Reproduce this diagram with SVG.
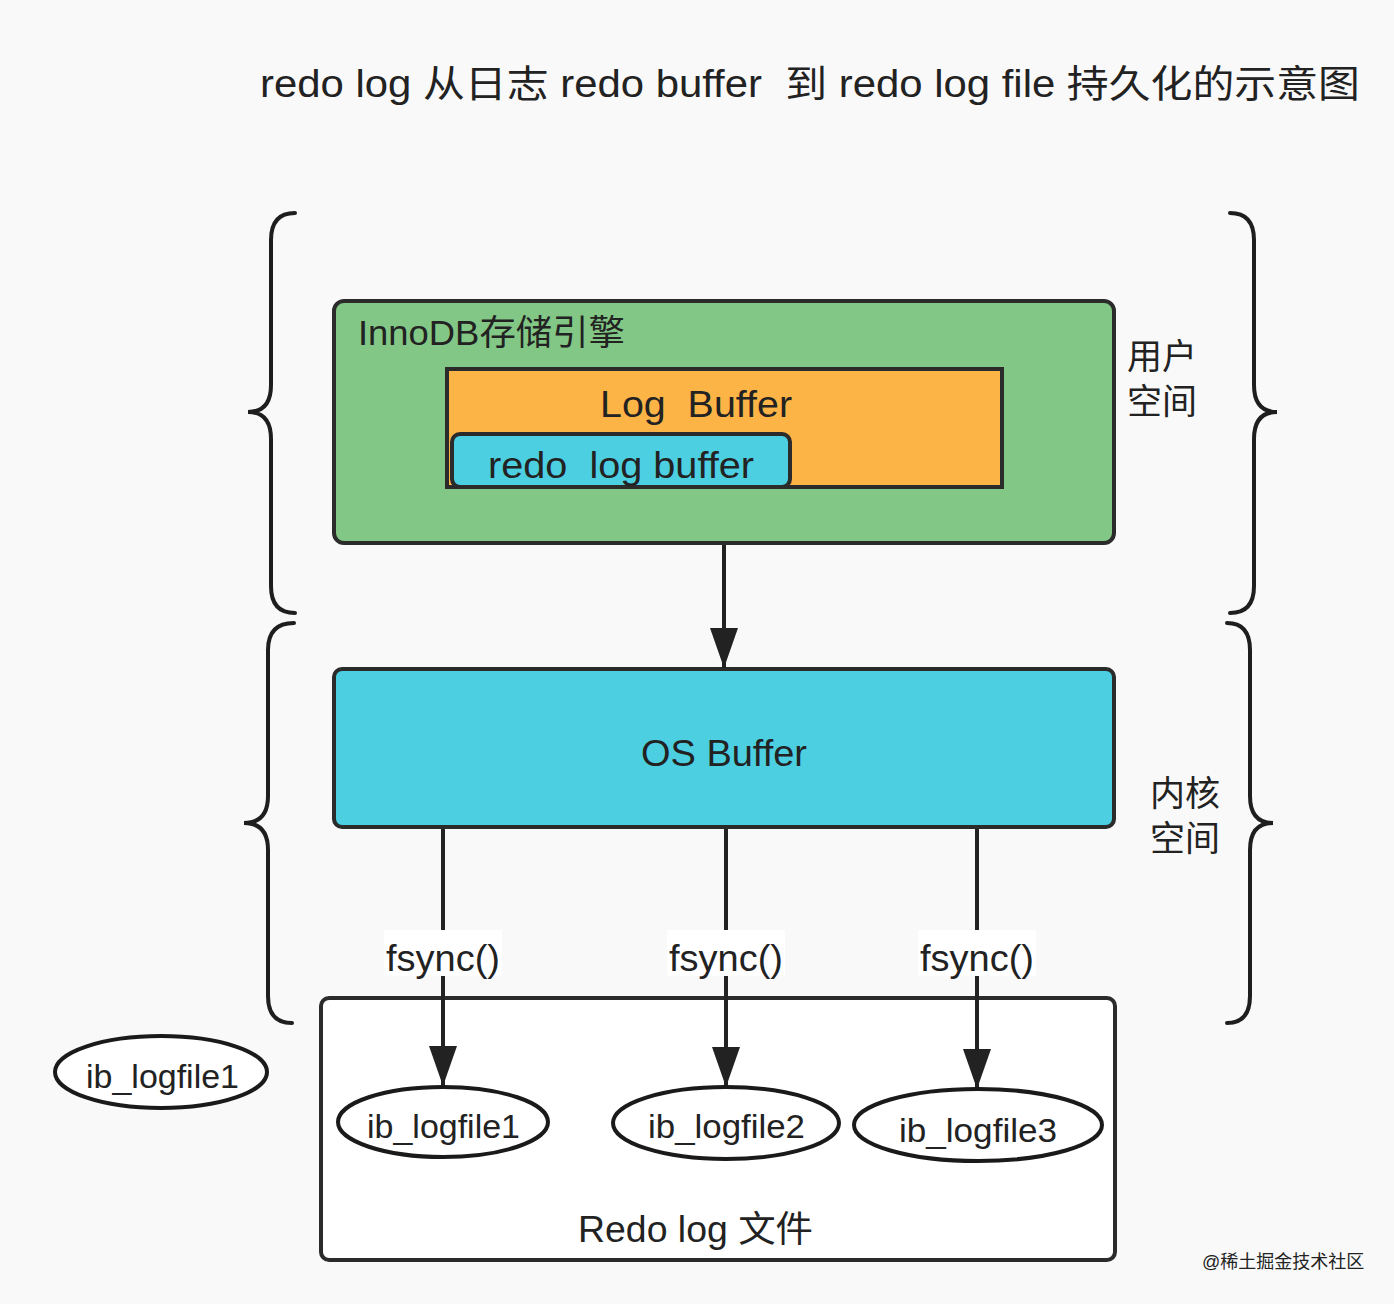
<svg xmlns="http://www.w3.org/2000/svg" width="1394" height="1304" viewBox="0 0 1394 1304">
<style>
.t{font-family:"Liberation Sans","Noto Sans CJK SC",sans-serif;fill:#222;white-space:pre;}
.box{stroke:#2b2b2b;stroke-width:4;}
.br{fill:none;stroke:#1e1e1e;stroke-width:4;stroke-linecap:round;}
.ln{stroke:#222;stroke-width:4;fill:none;}
.el{fill:#fff;stroke:#1a1a1a;stroke-width:4;}
</style>
<defs>
<marker id="ah" markerWidth="40" markerHeight="28" refX="40" refY="14" orient="auto" markerUnits="userSpaceOnUse" viewBox="0 0 40 28">
<path d="M0,0 L40,14 L0,28 Z" fill="#222"/>
</marker>
</defs>
<rect width="1394" height="1304" fill="#f9f9f9"/>
<text class="t" x="260" y="97" font-size="38" fill="#111" textLength="1100" lengthAdjust="spacingAndGlyphs" xml:space="preserve">redo log 从日志 redo buffer  到 redo log file 持久化的示意图</text>

<g id="braces">
<path class="br" d="M295,213 Q271,213 271,240 L271,385 Q271,412 248,412 Q271,412 271,439 L271,586 Q271,613 295,613"/>
<path class="br" d="M294,623 Q268,623 268,650 L268,796 Q268,823 244,823 Q268,823 268,850 L268,996 Q268,1023 292,1023"/>
<path class="br" d="M1230,213 Q1254,213 1254,240 L1254,385 Q1254,412 1277,412 Q1254,412 1254,439 L1254,586 Q1254,613 1230,613"/>
<path class="br" d="M1227,623 Q1250,623 1250,650 L1250,796 Q1250,823 1273,823 Q1250,823 1250,850 L1250,996 Q1250,1023 1227,1023"/>
</g>

<g id="user-space-label">
<text class="t" x="1127" y="369" font-size="35" fill="#333">用户</text>
<text class="t" x="1127" y="414" font-size="35" fill="#333">空间</text>
</g>
<g id="kernel-space-label">
<text class="t" x="1150" y="806" font-size="35" fill="#333">内核</text>
<text class="t" x="1150" y="851" font-size="35" fill="#333">空间</text>
</g>

<g id="innodb">
<rect class="box" x="334" y="301" width="780" height="242" rx="10" fill="#82c785"/>
<text class="t" x="358" y="345" font-size="35" fill="#333" textLength="267" lengthAdjust="spacingAndGlyphs">InnoDB存储引擎</text>
</g>
<g id="log-buffer">
<rect class="box" x="447" y="369" width="555" height="118" fill="#fdb446"/>
<text class="t" x="600" y="417" font-size="36" fill="#333" textLength="192" lengthAdjust="spacingAndGlyphs" xml:space="preserve">Log  Buffer</text>
</g>
<g id="redo-log-buffer">
<rect class="box" x="452" y="434" width="338" height="53" rx="8" fill="#4ccfe1"/>
<text class="t" x="488" y="478" font-size="36" fill="#333" textLength="266" lengthAdjust="spacingAndGlyphs" xml:space="preserve">redo  log buffer</text>
</g>

<g id="os-buffer">
<rect class="box" x="334" y="669" width="780" height="158" rx="8" fill="#4ccfe1"/>
<text class="t" x="641" y="766" font-size="36" fill="#333" textLength="166" lengthAdjust="spacingAndGlyphs">OS Buffer</text>
</g>

<g id="redo-log-files">
<rect class="box" x="321" y="998" width="794" height="262" rx="8" fill="#fff"/>
<text class="t" x="578" y="1242" font-size="36" fill="#333" textLength="235" lengthAdjust="spacingAndGlyphs">Redo log 文件</text>
</g>

<g id="connectors">
<line class="ln" x1="724" y1="545" x2="724" y2="668" marker-end="url(#ah)"/>
<line class="ln" x1="443" y1="829" x2="443" y2="1086" marker-end="url(#ah)"/>
<line class="ln" x1="726" y1="829" x2="726" y2="1087" marker-end="url(#ah)"/>
<line class="ln" x1="977" y1="829" x2="977" y2="1089" marker-end="url(#ah)"/>
<rect x="384" y="930" width="118" height="46" fill="#fff"/>
<rect x="667" y="930" width="118" height="46" fill="#fff"/>
<rect x="918" y="930" width="118" height="46" fill="#fff"/>
<text class="t" x="386" y="971" font-size="36" textLength="114" lengthAdjust="spacingAndGlyphs">fsync()</text>
<text class="t" x="669" y="971" font-size="36" textLength="114" lengthAdjust="spacingAndGlyphs">fsync()</text>
<text class="t" x="920" y="971" font-size="36" textLength="114" lengthAdjust="spacingAndGlyphs">fsync()</text>
<line class="ln" x1="443" y1="976" x2="443" y2="990"/>
<line class="ln" x1="726" y1="976" x2="726" y2="990"/>
<line class="ln" x1="977" y1="976" x2="977" y2="990"/>
</g>

<g id="ib_logfile1">
<ellipse class="el" cx="443" cy="1122" rx="105" ry="35"/>
<text class="t" x="367" y="1138" font-size="33" fill="#333" textLength="153" lengthAdjust="spacingAndGlyphs">ib_logfile1</text>
</g>
<g id="ib_logfile2">
<ellipse class="el" cx="726" cy="1123" rx="113" ry="36"/>
<text class="t" x="648" y="1138" font-size="33" fill="#333" textLength="157" lengthAdjust="spacingAndGlyphs">ib_logfile2</text>
</g>
<g id="ib_logfile3">
<ellipse class="el" cx="978" cy="1125" rx="124" ry="36"/>
<text class="t" x="899" y="1142" font-size="33" fill="#333" textLength="158" lengthAdjust="spacingAndGlyphs">ib_logfile3</text>
</g>
<g id="ib_logfile1-outside">
<ellipse class="el" cx="161" cy="1072" rx="106" ry="36"/>
<text class="t" x="86" y="1088" font-size="33" fill="#333" textLength="153" lengthAdjust="spacingAndGlyphs">ib_logfile1</text>
</g>

<text class="t" x="1202" y="1268" font-size="18" fill="#9a9a9a">@稀土掘金技术社区</text>
</svg>
